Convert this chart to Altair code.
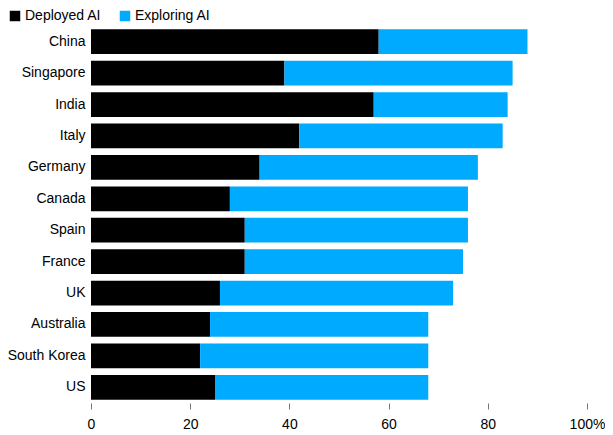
import altair as alt
import pandas as pd

countries = ["China", "Singapore", "India", "Italy", "Germany", "Canada",
             "Spain", "France", "UK", "Australia", "South Korea", "US"]
deployed = [58, 39, 57, 42, 34, 28, 31, 31, 26, 24, 22, 25]
exploring = [30, 46, 27, 41, 44, 48, 45, 44, 47, 44, 46, 43]
series = ["Deployed AI", "Exploring AI"]
colors = ["#000000", "#00aaff"]
x_ticks = [0, 20, 40, 60, 80, 100]

rows = []
for c, d, e in zip(countries, deployed, exploring):
    rows.append({"country": c, "status": series[0], "value": d, "ord": 0})
    rows.append({"country": c, "status": series[1], "value": e, "ord": 1})
df = pd.DataFrame(rows)

FONT = "Liberation Sans"

chart = alt.Chart(df).mark_bar().encode(
    y=alt.Y("country:N", sort=countries, title=None,
            scale=alt.Scale(paddingInner=0.21, paddingOuter=0.105),
            axis=alt.Axis(domain=False, ticks=False, labelPadding=6,
                          labelFontSize=14, labelColor="#000000", labelFont=FONT)),
    x=alt.X("value:Q", stack="zero", title=None,
            scale=alt.Scale(domain=[0, 100], nice=False),
            axis=alt.Axis(values=x_ticks, grid=False, domain=False, ticks=True,
                          tickSize=6, tickColor="#777777", labelPadding=8,
                          labelFlush=False,
                          labelFontSize=14, labelColor="#000000", labelFont=FONT,
                          labelExpr="datum.value == 100 ? '100%' : datum.label")),
    color=alt.Color("status:N", sort=series,
                    scale=alt.Scale(domain=series, range=colors),
                    legend=alt.Legend(title=None, orient="none", direction="horizontal",
                                      legendX=-83, legendY=-17, symbolType="square",
                                      symbolSize=110, symbolStrokeWidth=0,
                                      labelFontSize=14, labelFont=FONT,
                                      labelColor="#000000", labelOffset=3,
                                      columnPadding=16)),
    order=alt.Order("ord:Q"),
).properties(
    width=496, height=377,
    autosize=alt.AutoSizeParams(type="none"),
    padding={"left": 83, "top": 18, "right": 18, "bottom": 28},
).configure_view(stroke=None)

chart.save("out.html", embed_options={"renderer": "svg", "actions": False})
